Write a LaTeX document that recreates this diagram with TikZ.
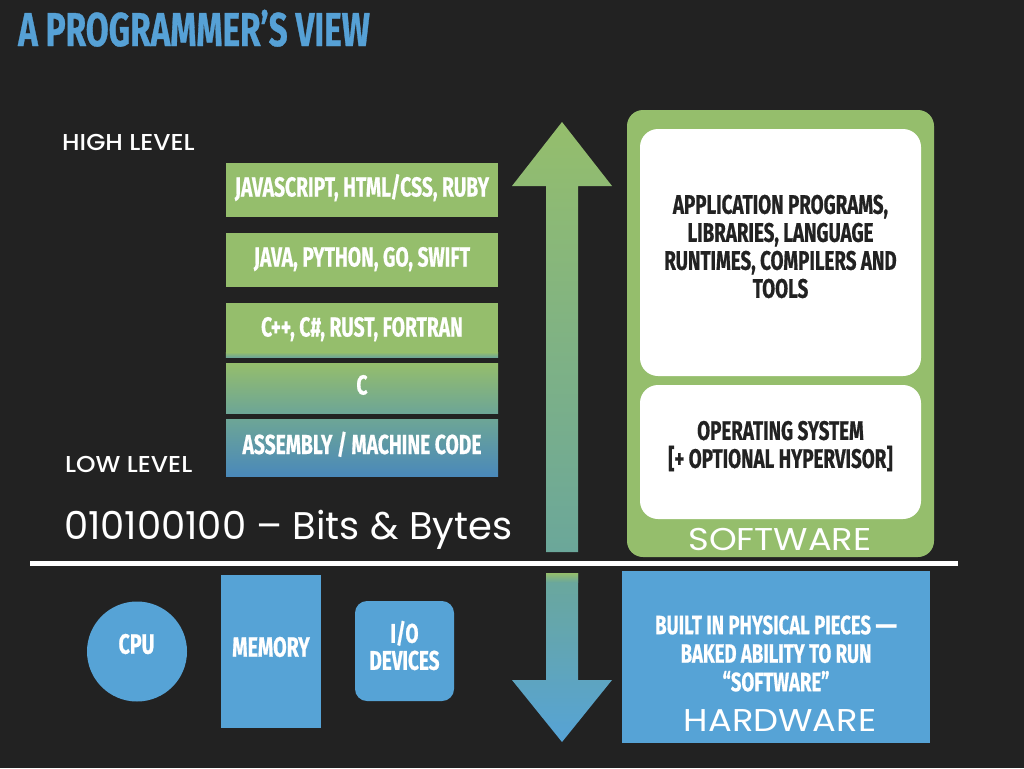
\documentclass[tikz,border=0pt]{standalone}
\usepackage{fontspec}
\setmainfont{Poppins}
\newfontfamily\dinfont[FakeStretch=0.7,FakeBold=0.6]{Fira Sans}
\newfontfamily\avfont[FakeStretch=1.12]{Poppins}
\newfontfamily\avplain{Poppins}
\newfontfamily\avmed[FakeStretch=1.08]{Poppins Medium}
\definecolor{bgdark}{HTML}{222222}
\definecolor{skyblue}{HTML}{56A3D6}
\definecolor{titleblue}{HTML}{56A1D6}
\definecolor{leafgreen}{HTML}{95BE6C}
\definecolor{midteal}{HTML}{6DA596}
\definecolor{deepblue}{HTML}{4A89BA}
\definecolor{arrowteal}{HTML}{6BA79A}
\definecolor{ink}{HTML}{222222}

\tikzset{
  din/.style={font=\dinfont\bfseries\fontsize{#1}{#1}\selectfont},
  langbox/.style={minimum width=272pt, minimum height=54pt, inner sep=0pt,
    text=white, text height=19pt, text depth=6pt, din=27.5},
  plainlabel/.style={inner sep=0pt, text=white},
  levellabel/.style={inner sep=0pt, text=white, anchor=base west,
    font=\avmed\fontsize{23}{23}\selectfont},
  whitebox/.style={fill=white, rounded corners=18pt, minimum width=281pt, inner sep=0pt},
  darktext/.style={inner sep=0pt, text=ink, align=center,
    font=\dinfont\bfseries\fontsize{26.8}{28}\selectfont},
  hwpart/.style={fill=skyblue, inner sep=0pt},
  biglabel/.style={inner sep=0pt, text=white, font=\avfont\fontsize{31.5}{31.5}\selectfont},
}

\begin{document}
\begin{tikzpicture}[x=1pt,y=-1pt]
  % canvas
  \fill[bgdark] (0,0) rectangle (1024,768);
  \useasboundingbox (0,0) rectangle (1024,768);

  % title
  \node[inner sep=0pt, anchor=base west, text=titleblue, din=47.5] (title) at (18,46) {A PROGRAMMER’S VIEW};

  % level labels
  \node[levellabel] (high) at (62,150) {HIGH LEVEL};
  \node[levellabel] (low) at (65,472) {LOW LEVEL};

  % language stack
  \node[langbox, fill=leafgreen] (l1) at (362,190) {JAVASCRIPT, HTML/CSS, RUBY};
  \node[langbox, fill=leafgreen] (l2) at (362,260) {JAVA, PYTHON, GO, SWIFT};
  \node[langbox, fill=leafgreen] (l3) at (362,330) {C++, C\#, RUST, FORTRAN};
  \shade[top color=leafgreen, bottom color=midteal] ([yshift=5pt]l3.south west) rectangle (l3.south east);
  \node[langbox, minimum height=50pt, top color=leafgreen, bottom color=midteal] (l4) at (362,388) {C};
  \node[langbox, minimum height=57pt, top color=midteal, bottom color=deepblue] (l5) at (362,447.5) {ASSEMBLY / MACHINE CODE};

  % bits and bytes
  \node[plainlabel, anchor=base west, font=\avplain\fontsize{38.5}{38.5}\selectfont] (bits) at (64,539) {010100100 – Bits \& Bytes};

  % upward arrow
  \shade[top color=leafgreen, bottom color=arrowteal]
    (562,122) -- (612,186) -- (578,186) -- (578,552) -- (546,552) -- (546,186) -- (512,186) -- cycle;

  % software block
  \node[fill=leafgreen, rounded corners=16pt, minimum width=307pt, minimum height=447pt, inner sep=0pt] (sw) at (780.5,333.5) {};
  \node[whitebox, minimum height=247pt] (apps) at (780.5,252.5) {};
  \node[darktext] (appstext) at (780.5,246.5) {APPLICATION PROGRAMS,\\LIBRARIES, LANGUAGE\\RUNTIMES, COMPILERS AND\\TOOLS};
  \node[whitebox, minimum height=134pt] (os) at (780.5,452) {};
  \node[darktext] (ostext) at (780.5,446) {OPERATING SYSTEM\\{[}+ OPTIONAL HYPERVISOR{]}};
  \node[biglabel, anchor=base] (swlabel) at (780,550) {SOFTWARE};

  % divider between software and hardware
  \coordinate (divl) at (30,563);
  \coordinate (divr) at (958,563);
  \draw[white, line width=5pt] (divl) -- (divr);

  % downward arrow
  \shade[top color=arrowteal, bottom color=skyblue]
    (546,573) -- (578,573) -- (578,680) -- (612,680) -- (562,742) -- (512,680) -- (546,680) -- cycle;
  \shade[top color=leafgreen, bottom color=arrowteal] (546,573) rectangle (578,582);

  % hardware parts
  \node[hwpart, circle, minimum size=100pt] (cpu) at (137,651.5) {};
  \node[plainlabel, din=28] (cputext) at (136.5,644) {CPU};
  \node[hwpart, minimum width=100pt, minimum height=153pt] (mem) at (271,651.5) {};
  \node[plainlabel, din=28] (memtext) at (271,647) {MEMORY};
  \node[hwpart, rounded corners=12pt, minimum width=99pt, minimum height=100pt] (io) at (404.5,651) {};
  \node[plainlabel, align=center, font=\dinfont\bfseries\fontsize{27}{27}\selectfont] (iotext) at (404.5,645.5) {I/O\\DEVICES};

  % hardware block
  \node[fill=skyblue, minimum width=308pt, minimum height=172pt, inner sep=0pt] (hw) at (776,657) {};
  \node[plainlabel, align=center, font=\dinfont\bfseries\fontsize{26.5}{28.5}\selectfont] (hwtext) at (776,653.5)
    {BUILT IN PHYSICAL PIECES \scalebox{1.45}[1]{—}\\BAKED ABILITY TO RUN\\“SOFTWARE”};
  \node[biglabel, anchor=base] (hwlabel) at (780,731) {HARDWARE};
\end{tikzpicture}
\end{document}
